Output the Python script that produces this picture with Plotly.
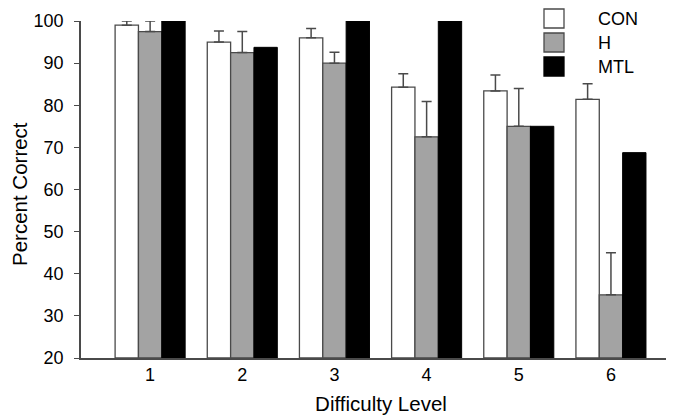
import plotly.graph_objects as go

levels = [1, 2, 3, 4, 5, 6]
series_names = ["CON", "H", "MTL"]
con = [99.0, 95.0, 96.0, 84.3, 83.4, 81.4]
con_err = [1.0, 2.6, 2.2, 3.2, 3.8, 3.7]
h = [97.5, 92.5, 90.0, 72.5, 75.0, 35.0]
h_err = [2.5, 5.0, 2.6, 8.4, 9.0, 10.0]
mtl = [100.0, 93.75, 100.0, 100.0, 75.0, 68.75]

FONT = "Liberation Sans, Arial, sans-serif"
EDGE = "#4a4a4a"
FILLS = ["white", "#a3a3a3", "black"]
LINES = [EDGE, EDGE, "black"]

fig = go.Figure()
fig.add_trace(go.Bar(
    x=levels, y=[v - 20 for v in con], base=20, name=series_names[0],
    marker=dict(color=FILLS[0], line=dict(color=LINES[0], width=1.3)),
    error_y=dict(type="data", array=con_err, arrayminus=[0] * 6, symmetric=False,
                 color=EDGE, thickness=1.5, width=5),
))
fig.add_trace(go.Bar(
    x=levels, y=[v - 20 for v in h], base=20, name=series_names[1],
    marker=dict(color=FILLS[1], line=dict(color=LINES[1], width=1.3)),
    error_y=dict(type="data", array=h_err, arrayminus=[0] * 6, symmetric=False,
                 color=EDGE, thickness=1.5, width=5),
))
fig.add_trace(go.Bar(
    x=levels, y=[v - 20 for v in mtl], base=20, name=series_names[2],
    marker=dict(color=FILLS[2], line=dict(color=LINES[2], width=1)),
))

# custom legend with large square swatches
L, T, W, H = 73, 13, 600, 337
def px(xp):
    return (xp - L) / W
def py(yp):
    return (T + H - yp) / H

shapes = []
annotations = []
for i, nm in enumerate(series_names):
    top = 1 + 24 * i
    shapes.append(dict(type="rect", xref="paper", yref="paper",
                       x0=px(536), x1=px(556), y0=py(top + 19), y1=py(top),
                       fillcolor=FILLS[i], line=dict(color=LINES[i], width=1.3)))
    annotations.append(dict(text=nm, xref="paper", yref="paper", x=px(588),
                            y=py(top + 10), xanchor="left", yanchor="middle",
                            showarrow=False, font=dict(size=18, family=FONT, color="black")))

# y-axis title as a rotated annotation
annotations.append(dict(text="Percent Correct", xref="paper", yref="paper",
                        x=px(11), y=py(186), xanchor="center", yanchor="middle",
                        textangle=-90, showarrow=False,
                        font=dict(size=20.5, family=FONT, color="black")))

fig.update_layout(
    width=674, height=417,
    margin=dict(l=L, r=674 - L - W, t=T, b=417 - T - H),
    paper_bgcolor="white", plot_bgcolor="white",
    barmode="group", bargap=0.24, bargroupgap=0,
    font=dict(family=FONT, size=18, color="black"),
    showlegend=False,
    shapes=shapes, annotations=annotations,
    xaxis=dict(
        range=[0.25, 6.76], tickmode="array", tickvals=levels,
        ticktext=[str(v) for v in levels], showgrid=False, zeroline=False,
        showline=True, linecolor=EDGE, linewidth=1.5, ticks="",
        automargin=False,
        tickfont=dict(size=18, family=FONT),
        title=dict(text="Difficulty Level", font=dict(size=20.5, family=FONT), standoff=12),
    ),
    yaxis=dict(
        range=[20, 100], tickmode="array", tickvals=list(range(20, 101, 10)),
        showgrid=False, zeroline=False, showline=True, linecolor=EDGE, linewidth=1.5,
        ticks="outside", ticklen=5, tickcolor=EDGE, tickwidth=1.3,
        ticklabelstandoff=7, automargin=False,
        tickfont=dict(size=18, family=FONT),
    ),
)

fig.write_html("out.html")
